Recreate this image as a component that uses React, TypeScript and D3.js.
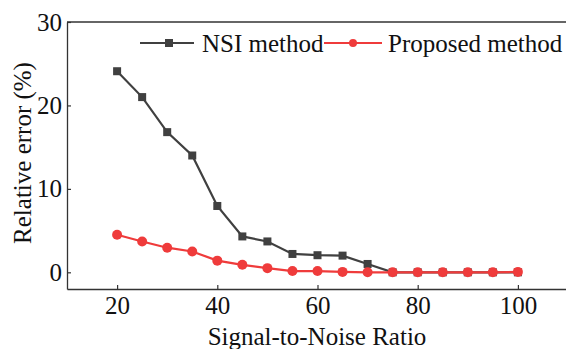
import * as d3 from "d3";
import { useRef, useEffect } from "react";

// SNR values (x) and errors for each method
const snr = [20, 25, 30, 35, 40, 45, 50, 55, 60, 65, 70, 75, 80, 85, 90, 95, 100];
const nsiError = [24.1, 21.0, 16.8, 14.0, 7.95, 4.3, 3.7, 2.2, 2.05, 2.0, 1.0, 0, 0, 0, 0, 0, 0];
const proposedError = [4.5, 3.7, 2.95, 2.5, 1.4, 0.9, 0.5, 0.15, 0.15, 0.05, 0, 0, 0, 0, 0, 0, 0.05];
const xTicks = [20, 40, 60, 80, 100];
const yTicks = [0, 10, 20, 30];

export function LineChart({
    width = 566,
    height = 349,
    marginTop = 22,
    marginRight = -2,
    marginBottom = 60,
    marginLeft = 67,
}: {
    width?: number;
    height?: number;
    marginTop?: number;
    marginRight?: number;
    marginBottom?: number;
    marginLeft?: number;
}) {
    const svgRef = useRef<SVGSVGElement | null>(null);

    useEffect(() => {
        const font = "'Liberation Serif', 'Times New Roman', serif";
        const gray = "#404040";
        const red = "#ef3b3b";
        const fs = 25;

        const x = d3.scaleLinear()
            .domain([10, 110])
            .range([marginLeft, width - marginRight]);

        const y = d3.scaleLinear()
            .domain([-2, 30])
            .range([height - marginBottom, marginTop]);

        const svg = d3.select(svgRef.current)
            .attr("width", width)
            .attr("height", height)
            .attr("viewBox", [0, 0, width, height])
            .style("font-family", font);
        svg.selectAll("*").remove();

        // frame: top line, left and bottom axes (ticks point inward)
        svg.append("line")
            .attr("x1", marginLeft).attr("x2", width + 5)
            .attr("y1", marginTop).attr("y2", marginTop)
            .attr("stroke", "#333").attr("stroke-width", 1.3);

        svg.append("g")
            .attr("transform", `translate(0,${height - marginBottom})`)
            .call(d3.axisBottom(x).tickValues(xTicks).tickSize(-4).tickSizeOuter(0).tickPadding(7))
            .call(g => g.select(".domain").attr("stroke", "#333").attr("stroke-width", 1.3))
            .call(g => g.selectAll(".tick line").attr("stroke", "#333").attr("stroke-width", 1.2))
            .call(g => g.selectAll(".tick text")
                .attr("font-size", fs).attr("font-family", font).attr("fill", "#111"));

        svg.append("g")
            .attr("transform", `translate(${marginLeft},0)`)
            .call(d3.axisLeft(y).tickValues(yTicks).tickSize(-4).tickSizeOuter(0).tickPadding(5))
            .call(g => g.select(".domain").attr("stroke", "#333").attr("stroke-width", 1.3))
            .call(g => g.selectAll(".tick line").attr("stroke", "#333").attr("stroke-width", 1.2))
            .call(g => g.selectAll(".tick text")
                .attr("font-size", fs).attr("font-family", font).attr("fill", "#111"));

        // axis titles
        svg.append("text")
            .attr("x", 317)
            .attr("y", 345)
            .attr("text-anchor", "middle")
            .attr("font-size", fs)
            .attr("fill", "#111")
            .text("Signal-to-Noise Ratio");

        svg.append("text")
            .attr("transform", `translate(31,153) rotate(-90)`)
            .attr("text-anchor", "middle")
            .attr("font-size", fs)
            .attr("fill", "#111")
            .text("Relative error (%)");

        const line = d3.line<number>()
            .x((_, i) => x(snr[i]))
            .y((d) => y(d));

        // NSI series
        svg.append("path")
            .datum(nsiError)
            .attr("fill", "none")
            .attr("stroke", gray)
            .attr("stroke-width", 2.2)
            .attr("d", line);
        svg.append("g")
            .attr("fill", gray)
            .selectAll("rect")
            .data(nsiError)
            .join("rect")
            .attr("x", (_, i) => x(snr[i]) - 4)
            .attr("y", (d) => y(d) - 4)
            .attr("width", 8)
            .attr("height", 8);

        // Proposed series
        svg.append("path")
            .datum(proposedError)
            .attr("fill", "none")
            .attr("stroke", red)
            .attr("stroke-width", 2.2)
            .attr("d", line);
        svg.append("g")
            .attr("fill", red)
            .selectAll("circle")
            .data(proposedError)
            .join("circle")
            .attr("cx", (_, i) => x(snr[i]))
            .attr("cy", (d) => y(d))
            .attr("r", 5);

        // legend
        const ly = 43;
        const legend = svg.append("g");
        legend.append("line")
            .attr("x1", 140).attr("x2", 194).attr("y1", ly).attr("y2", ly)
            .attr("stroke", gray).attr("stroke-width", 2.2);
        legend.append("rect")
            .attr("x", 165).attr("y", ly - 4).attr("width", 8).attr("height", 8)
            .attr("fill", gray);
        legend.append("text")
            .attr("x", 202).attr("y", ly + 9)
            .attr("font-size", fs).attr("fill", "#111")
            .text("NSI method");
        legend.append("line")
            .attr("x1", 324).attr("x2", 382).attr("y1", ly).attr("y2", ly)
            .attr("stroke", red).attr("stroke-width", 2.2);
        legend.append("circle")
            .attr("cx", 353).attr("cy", ly).attr("r", 4)
            .attr("fill", red);
        legend.append("text")
            .attr("x", 388).attr("y", ly + 9)
            .attr("font-size", fs).attr("fill", "#111")
            .text("Proposed method");
    }, [width, height, marginTop, marginRight, marginBottom, marginLeft]);

    return <svg ref={svgRef} style={{ position: "absolute", left: 0, top: 0 }}></svg>;
}

export default function App() {
    return <LineChart />;
}
